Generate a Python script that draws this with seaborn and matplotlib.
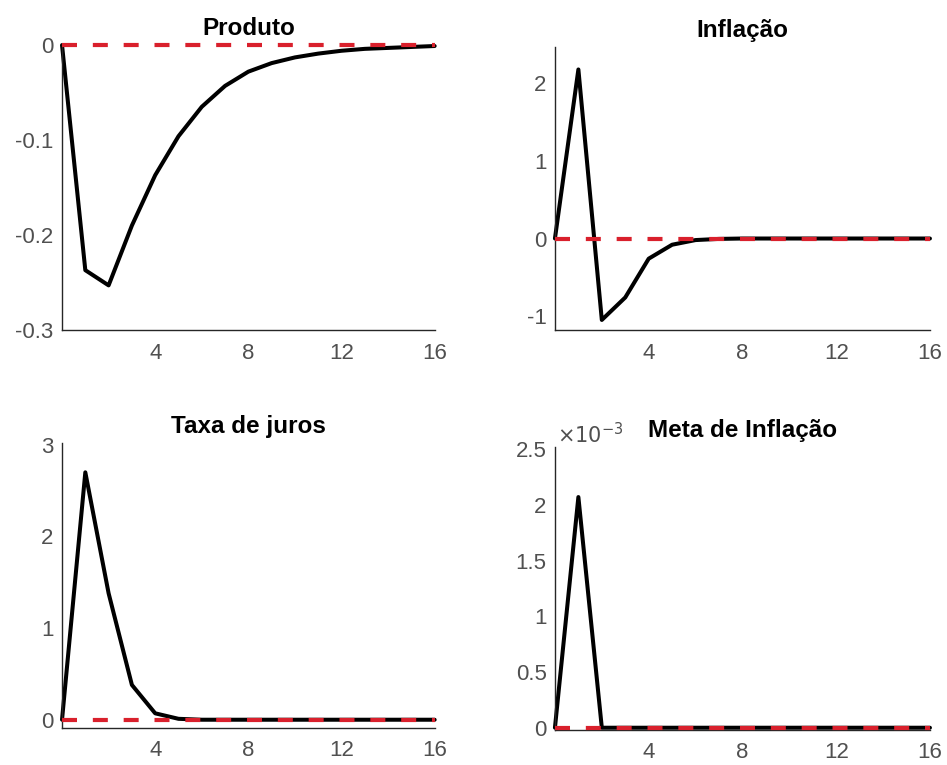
import numpy as np
import pandas as pd
import seaborn as sns
import matplotlib
matplotlib.use("Agg")
import matplotlib.pyplot as plt
from matplotlib.ticker import FuncFormatter

# ---- data ----
periods = list(range(17))
produto = [0.0, -0.237, -0.253, -0.190, -0.137, -0.096, -0.065, -0.043, -0.028,
           -0.019, -0.013, -0.009, -0.006, -0.004, -0.003, -0.002, -0.001]
inflacao = [0.0, 2.18, -1.05, -0.76, -0.26, -0.08, -0.02, -0.005, 0.0,
            0.0, 0.0, 0.0, 0.0, 0.0, 0.0, 0.0, 0.0]
taxa_juros = [0.0, 2.70, 1.38, 0.38, 0.07, 0.01, 0.0, 0.0, 0.0,
              0.0, 0.0, 0.0, 0.0, 0.0, 0.0, 0.0, 0.0]
meta_inflacao = [0.0, 2.07e-3, 0.0, 0.0, 0.0, 0.0, 0.0, 0.0, 0.0,
                 0.0, 0.0, 0.0, 0.0, 0.0, 0.0, 0.0, 0.0]
baseline = [0.0] * 17

titles = ["Produto", "Inflação", "Taxa de juros", "Meta de Inflação"]
series = [produto, inflacao, taxa_juros, meta_inflacao]
ylims = [(-0.3, 0.0), (-1.18, 2.47), (-0.09, 3.02), (-0.02e-3, 2.52e-3)]
yticks = [[-0.3, -0.2, -0.1, 0.0], [-1, 0, 1, 2], [0, 1, 2, 3],
          [0, 0.5e-3, 1e-3, 1.5e-3, 2e-3, 2.5e-3]]
xticks = [4, 8, 12, 16]

sns.set_theme(style="white")
plt.rcParams['font.family'] = ['Liberation Sans', 'DejaVu Sans']
plt.rcParams['axes.unicode_minus'] = False

fig = plt.figure(figsize=(9.47, 7.65), dpi=100)
positions = [
    [0.0655, 0.5686, 0.3935, 0.3725],
    [0.586, 0.5686, 0.396, 0.3700],
    [0.0655, 0.0484, 0.3935, 0.3725],
    [0.586, 0.0458, 0.396, 0.3700],
]
tick_col = '#505050'
for i in range(4):
    ax = fig.add_axes(positions[i])
    df = pd.DataFrame({"t": periods, "v": series[i], "b": baseline})
    sns.lineplot(data=df, x="t", y="v", ax=ax, color='black', linewidth=2.9,
                 zorder=2, clip_on=False)
    sns.lineplot(data=df, x="t", y="b", ax=ax, color='#d9202c', linewidth=3.0,
                 zorder=3, linestyle=(0, (3.6, 3.8)), clip_on=False)
    ax.set_xlim(0, 16)
    ax.set_ylim(*ylims[i])
    ax.set_xticks(xticks)
    ax.set_yticks(yticks[i])
    if i == 3:
        ax.yaxis.set_major_formatter(FuncFormatter(lambda v, p: f"{v*1e3:g}"))
        ax.text(0.005, 1.0, r"$\times 10^{-3}$", transform=ax.transAxes,
                ha='left', va='bottom', fontsize=15, color=tick_col)
    else:
        ax.yaxis.set_major_formatter(FuncFormatter(lambda v, p: f"{v:g}"))
    ax.set_xlabel("")
    ax.set_ylabel("")
    for s in ['top', 'right']:
        ax.spines[s].set_visible(False)
    for s in ['left', 'bottom']:
        ax.spines[s].set_color('#262626')
        ax.spines[s].set_linewidth(1.0)
    ax.tick_params(axis='both', direction='in', length=4, width=0.8,
                   colors='#262626', labelcolor=tick_col, labelsize=16)
    ax.tick_params(axis='x', pad=9)
    ax.tick_params(axis='y', pad=6)
    ax.set_title(titles[i], fontsize=17.5, fontweight='bold', color='black', pad=7)

fig.savefig("out.png", dpi=100, facecolor='white')
